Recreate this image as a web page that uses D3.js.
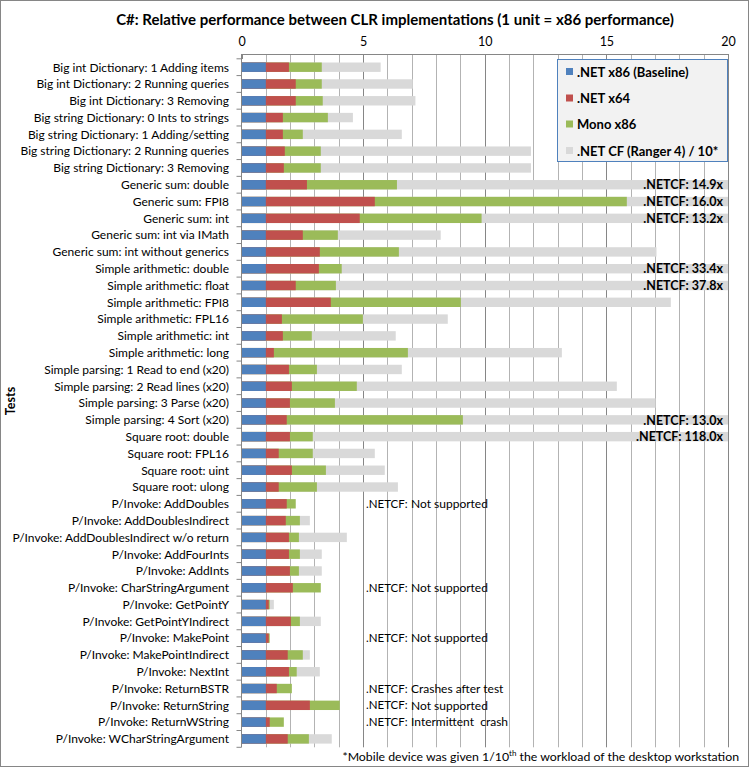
<!DOCTYPE html>
<html><head><meta charset="utf-8">
<script src="https://cdn.jsdelivr.net/npm/d3@7"></script>
<style>
html,body{margin:0;padding:0;background:#fff;}
svg{display:block;font-family:Lato,"Open Sans",sans-serif;}
</style></head>
<body>
<svg id="c" width="749" height="767"></svg>
<script>
const categories = [
"Big int Dictionary: 1 Adding items","Big int Dictionary: 2 Running queries","Big int Dictionary: 3 Removing",
"Big string Dictionary: 0 Ints to strings","Big string Dictionary: 1 Adding/setting","Big string Dictionary: 2 Running queries","Big string Dictionary: 3 Removing",
"Generic sum: double","Generic sum: FPI8","Generic sum: int","Generic sum: int via IMath","Generic sum: int without generics",
"Simple arithmetic: double","Simple arithmetic: float","Simple arithmetic: FPI8","Simple arithmetic: FPL16","Simple arithmetic: int","Simple arithmetic: long",
"Simple parsing: 1 Read to end (x20)","Simple parsing: 2 Read lines (x20)","Simple parsing: 3 Parse (x20)","Simple parsing: 4 Sort (x20)",
"Square root: double","Square root: FPL16","Square root: uint","Square root: ulong",
"P/Invoke: AddDoubles","P/Invoke: AddDoublesIndirect","P/Invoke: AddDoublesIndirect w/o return","P/Invoke: AddFourInts","P/Invoke: AddInts",
"P/Invoke: CharStringArgument","P/Invoke: GetPointY","P/Invoke: GetPointYIndirect","P/Invoke: MakePoint","P/Invoke: MakePointIndirect",
"P/Invoke: NextInt","P/Invoke: ReturnBSTR","P/Invoke: ReturnString","P/Invoke: ReturnWString","P/Invoke: WCharStringArgument"];

const x86 = categories.map(() => 1);
const x64 = [1.95,2.23,2.23,1.70,1.70,1.78,1.74,2.69,5.48,4.86,2.52,3.22,3.18,2.23,3.67,1.66,1.70,1.33,1.95,2.07,1.99,1.86,1.99,1.53,2.07,1.53,1.86,1.82,1.95,1.95,1.99,2.11,1.12,2.03,1.12,1.90,1.95,1.45,2.81,1.16,1.90];
const mono = [3.30,3.30,3.34,3.55,2.52,3.26,3.26,6.39,15.84,9.87,3.96,6.47,4.12,3.88,9.02,4.99,2.89,6.84,3.10,4.74,3.84,9.10,2.93,2.93,3.47,3.10,2.23,2.40,2.36,2.40,2.36,3.26,1.16,2.40,1.16,2.52,2.27,2.07,4.04,1.74,2.77];
// null = no result; values past the axis end are clipped at 20
const netcf = [5.72,7.04,7.15,4.58,6.59,11.9,11.9,20,20,20,8.19,17.06,20,20,17.65,8.48,6.34,13.17,6.59,15.43,17.02,20,20,5.48,5.89,6.43,null,2.81,4.33,3.30,3.30,null,1.33,3.26,null,2.81,3.22,null,null,null,3.71];
const overflowLabels = {"Generic sum: double":"14.9x","Generic sum: FPI8":"16.0x","Generic sum: int":"13.2x","Simple arithmetic: double":"33.4x","Simple arithmetic: float":"37.8x","Simple parsing: 4 Sort (x20)":"13.0x","Square root: double":"118.0x"};
const notes = {"P/Invoke: AddDoubles":"Not supported","P/Invoke: CharStringArgument":"Not supported","P/Invoke: MakePoint":"Not supported","P/Invoke: ReturnBSTR":"Crashes after test","P/Invoke: ReturnString":"Not supported","P/Invoke: ReturnWString":"Intermittent  crash"};
const seriesNames = [".NET x86 (Baseline)",".NET x64","Mono x86",".NET CF (Ranger 4) / 10*"];
const colors = ["#4f81bd","#c0504d","#9bbb59","#d9d9d9"];
const xTicks = [0,5,10,15,20];

const svg = d3.select("#c");
svg.append("rect").attr("x",0.5).attr("y",0.5).attr("width",748).attr("height",766).attr("fill","#fff").attr("stroke","#868686");

const L = 241.5, R = 728, T = 58.8, B = 747.3, AX = 54;
const x = d3.scaleLinear().domain([0,20]).range([L,R]).clamp(true);
const y = d3.scaleBand().domain(categories).range([T,B]).paddingInner(0.44).paddingOuter(0.22);

// gridlines
const g = svg.append("g");
g.selectAll("line.grid").data(d3.range(1,21)).join("line")
  .attr("x1",d=>Math.round(x(d))+0.5).attr("x2",d=>Math.round(x(d))+0.5).attr("y1",AX).attr("y2",B)
  .attr("stroke",d=>d%5===0?"#868686":"#b3b3b3").attr("stroke-width",1);

// bars: gray, green, red, blue (overlapping)
const series = [netcf, mono, x64, x86];
const scol = [colors[3],colors[2],colors[1],colors[0]];
series.forEach((vals,si)=>{
  svg.append("g").selectAll("rect").data(categories.map((c,i)=>({c,v:vals[i]})).filter(d=>d.v!=null)).join("rect")
    .attr("x",x(0)).attr("y",d=>y(d.c)).attr("width",d=>x(d.v)-x(0)).attr("height",y.bandwidth())
    .attr("fill",scol[si]);
});

// axes
const xa = svg.append("g").attr("transform",`translate(0,${AX})`).call(d3.axisTop(x).tickValues(xTicks).tickSize(0).tickPadding(8));
xa.select(".domain").attr("stroke","#868686");
xa.selectAll("text").attr("font-size",12.5).attr("font-family","Lato").attr("fill","#000");
svg.append("g").selectAll("line").data(xTicks).join("line")
  .attr("x1",d=>Math.round(x(d))+0.5).attr("x2",d=>Math.round(x(d))+0.5).attr("y1",AX).attr("y2",AX+5).attr("stroke","#868686");
svg.append("line").attr("x1",L).attr("x2",L).attr("y1",AX).attr("y2",B).attr("stroke","#868686");
svg.append("g").selectAll("line").data(d3.range(categories.length+1)).join("line")
  .attr("x1",L-5).attr("x2",L).attr("y1",d=>T+d*y.step()).attr("y2",d=>T+d*y.step()).attr("stroke","#868686");

// category labels
svg.append("g").selectAll("text").data(categories).join("text")
  .attr("x",229).attr("y",d=>y(d)+y.bandwidth()/2).attr("dy","0.36em").attr("text-anchor","end")
  .attr("font-size",12).text(d=>d);

// overflow labels
svg.append("g").selectAll("text").data(Object.keys(overflowLabels)).join("text")
  .attr("x",723).attr("y",d=>y(d)+y.bandwidth()/2).attr("dy","0.38em").attr("text-anchor","end")
  .attr("font-size",12.5).attr("font-weight","bold").text(d=>".NETCF: "+overflowLabels[d]);

// notes
const ng = svg.append("g").selectAll("g").data(Object.keys(notes)).join("g");
ng.append("text").attr("x",366).attr("y",d=>y(d)+y.bandwidth()/2).attr("dy","0.36em").attr("font-size",11.5).text(".NETCF:");
ng.append("text").attr("x",411).attr("y",d=>y(d)+y.bandwidth()/2).attr("dy","0.36em").attr("font-size",12).attr("xml:space","preserve").text(d=>notes[d]);

// title
svg.append("text").attr("x",395).attr("y",25).attr("text-anchor","middle").attr("font-size",15).attr("font-weight","bold").text("C#: Relative performance between CLR implementations (1 unit = x86 performance)");

// y title
svg.append("text").attr("transform","translate(15,401) rotate(-90)").attr("text-anchor","middle").attr("font-size",12.5).attr("font-weight","bold").text("Tests");

// legend
const lg = svg.append("g");
lg.append("rect").attr("x",557.5).attr("y",59.5).attr("width",170).attr("height",102).attr("fill","#f2f2f2").attr("stroke","#4f81bd");
const ly = [72,98.5,124.5,151];
seriesNames.forEach((n,i)=>{
  lg.append("rect").attr("x",566).attr("y",ly[i]-4).attr("width",7).attr("height",7).attr("fill",colors[i]);
  lg.append("text").attr("x",577).attr("y",ly[i]).attr("dy","0.35em").attr("font-size",13).attr("font-weight","bold").text(n);
});

// footnote
const fn = svg.append("text").attr("x",739).attr("y",761).attr("text-anchor","end").attr("font-size",12.3);
fn.append("tspan").text("*Mobile device was given 1/10");
fn.append("tspan").attr("font-size",8).attr("dy",-5).text("th");
fn.append("tspan").attr("dy",5).text(" the workload of the desktop workstation");
</script>
</body></html>
